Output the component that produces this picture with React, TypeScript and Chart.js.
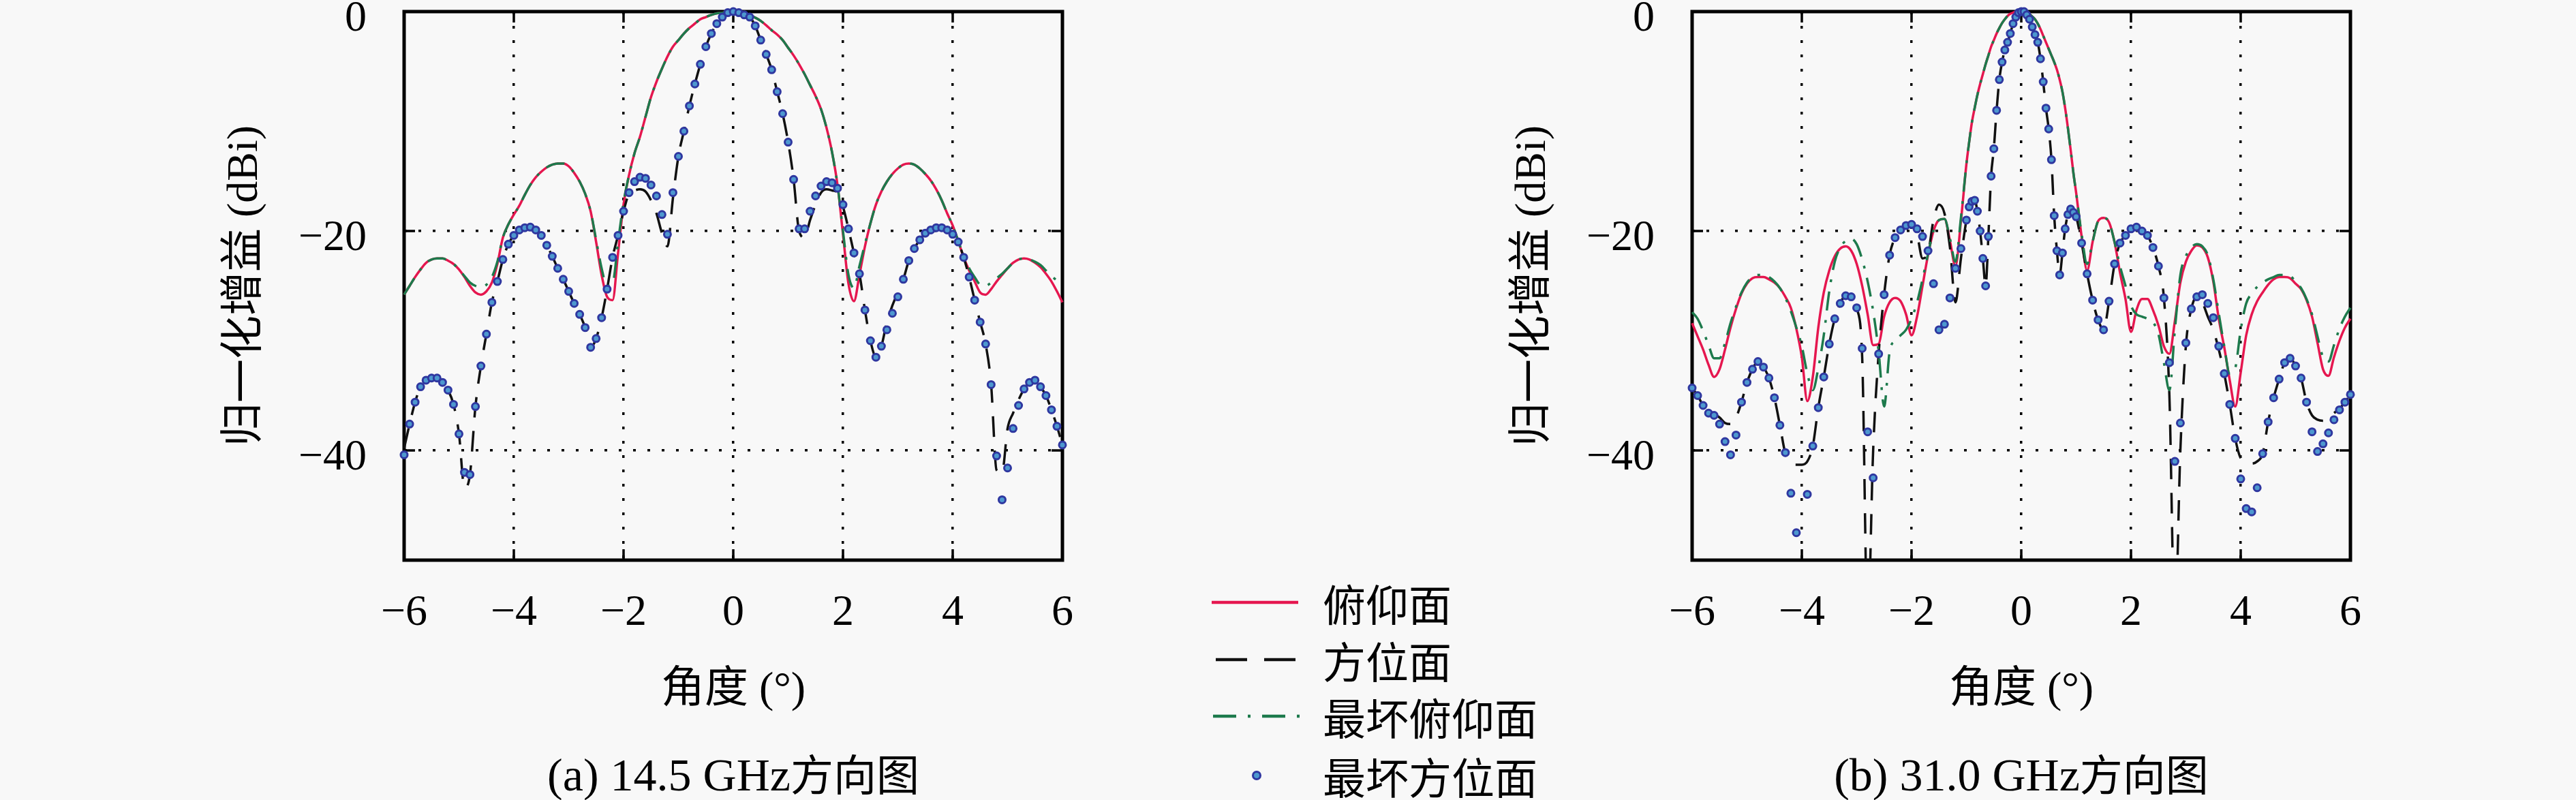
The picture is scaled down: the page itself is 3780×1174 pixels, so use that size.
import React, { useEffect, useRef } from 'react';
import { Chart, registerables } from 'chart.js';

Chart.register(...registerables);

// ---------- text ----------
const seriesNames = ['俯仰面', '方位面', '最坏俯仰面', '最坏方位面'];
const captions = ['(a) 14.5 GHz方向图', '(b) 31.0 GHz方向图'];
const xTitle = '角度 (°)';
const yTitle = '归一化增益 (dBi)';
const xTicks = [-6, -4, -2, 0, 2, 4, 6];
const yTicks = [-40, -20, 0];

// ---------- panel (a) 14.5 GHz ----------
const anglesA = [
  -6, -5.9, -5.8, -5.7, -5.6, -5.5, -5.4, -5.3, -5.2, -5.1,
  -5, -4.9, -4.8, -4.7, -4.6, -4.5, -4.4, -4.3, -4.2, -4.1,
  -4, -3.9, -3.8, -3.7, -3.6, -3.5, -3.4, -3.3, -3.2, -3.1,
  -3, -2.9, -2.8, -2.7, -2.6, -2.5, -2.4, -2.3, -2.2, -2.1,
  -2, -1.9, -1.8, -1.7, -1.6, -1.5, -1.4, -1.3, -1.2, -1.1,
  -1, -0.9, -0.8, -0.7, -0.6, -0.5, -0.4, -0.3, -0.2, -0.1,
  0,
  0.1, 0.2, 0.3, 0.4, 0.5, 0.6, 0.7, 0.8, 0.9, 1,
  1.1, 1.2, 1.3, 1.4, 1.5, 1.6, 1.7, 1.8, 1.9, 2,
  2.1, 2.2, 2.3, 2.4, 2.5, 2.6, 2.7, 2.8, 2.9, 3,
  3.1, 3.2, 3.3, 3.4, 3.5, 3.6, 3.7, 3.8, 3.9, 4,
  4.1, 4.2, 4.3, 4.4, 4.5, 4.6, 4.7, 4.8, 4.9, 5,
  5.1, 5.2, 5.3, 5.4, 5.5, 5.6, 5.7, 5.8, 5.9, 6,
];
const elevA = [
  -25.8, -25.0, -24.2, -23.5, -22.9, -22.6, -22.5, -22.5, -22.7, -23.0,
  -23.5, -24.2, -25.0, -25.6, -25.8, -25.5, -24.7, -23.0, -20.6, -19.4,
  -18.5, -17.7, -16.7, -15.8, -15.1, -14.6, -14.2, -13.95, -13.85, -13.85,
  -14.1, -14.7, -15.5, -16.6, -18.2, -21.0, -24.0, -26.0, -26.3, -22.0,
  -17.6, -14.9, -12.9, -11.4, -9.6, -7.8, -6.4, -5.2, -4.1, -3.2,
  -2.6, -2.0, -1.5, -1.1, -0.7, -0.5, -0.3, -0.15, -0.1, 0,
  0,
  0, -0.15, -0.35, -0.55, -0.85, -1.25, -1.7, -2.1, -2.6, -3.3,
  -4.0, -4.8, -5.7, -6.7, -7.7, -8.9, -10.6, -12.8, -15.8, -20.3,
  -24.8, -26.4, -24.0, -21.4, -19.3, -17.6, -16.4, -15.5, -14.8, -14.3,
  -13.95, -13.85, -13.95, -14.3, -14.8, -15.4, -16.2, -17.2, -18.4, -19.5,
  -20.9, -22.4, -23.6, -24.6, -25.6, -25.8, -25.3, -24.6, -24.0, -23.4,
  -22.9, -22.6, -22.5, -22.6, -22.9, -23.3, -23.9, -24.6, -25.5, -26.5,
];
const azimA = [
  -39.8, -37.6, -35.6, -34.2, -33.6, -33.4, -33.4, -33.8, -34.5, -35.8,
  -38.5, -43.4, -42.2, -36.0, -32.3, -29.4, -26.5, -24.6, -22.6, -21.2,
  -20.4, -19.9, -19.7, -19.65, -19.9, -20.4, -21.3, -22.3, -23.4, -24.4,
  -25.5, -26.6, -27.6, -28.8, -30.6, -29.8, -27.9, -25.3, -22.4, -20.4,
  -18.2, -16.6, -16.3, -16.2, -16.4, -17.2, -18.4, -20.2, -21.4, -17.0,
  -13.2, -10.9, -8.6, -6.6, -4.8, -3.2, -2.0, -1.1, -0.5, -0.1,
  0,
  -0.1, -0.3, -0.5, -1.3, -2.6, -3.9, -5.3, -7.3, -9.3, -11.9,
  -15.3, -20.0, -20.6, -19.0, -17.6, -16.5, -16.2, -16.3, -16.5, -17.8,
  -19.8, -22.0, -23.9, -27.2, -30.0, -31.5, -30.5, -28.3, -26.8, -25.6,
  -24.4, -22.7, -21.6, -20.8, -20.2, -19.9, -19.7, -19.7, -19.9, -20.3,
  -21.0, -22.4, -24.2, -26.3, -28.3, -30.3, -34.0, -41.8, -42.0, -38.0,
  -36.6, -35.4, -34.4, -33.8, -33.6, -34.2, -35.0, -36.3, -37.8, -39.5,
];
const worstElevA = [
  -25.8, -25.0, -24.2, -23.5, -22.9, -22.6, -22.5, -22.5, -22.7, -23.0,
  -23.5, -24.1, -24.7, -25.0, -25.1, -24.9, -24.2, -22.8, -20.6, -19.4,
  -18.5, -17.7, -16.7, -15.8, -15.1, -14.6, -14.2, -13.95, -13.85, -13.85,
  -14.1, -14.7, -15.5, -16.6, -18.2, -20.8, -23.4, -25.0, -24.8, -21.0,
  -17.4, -14.9, -12.9, -11.4, -9.6, -7.8, -6.4, -5.2, -4.1, -3.2,
  -2.6, -2.0, -1.5, -1.1, -0.7, -0.5, -0.3, -0.15, -0.1, 0,
  0,
  0, -0.15, -0.35, -0.55, -0.85, -1.25, -1.7, -2.1, -2.6, -3.3,
  -4.0, -4.8, -5.7, -6.7, -7.7, -8.9, -10.6, -12.8, -15.8, -20.0,
  -24.0, -25.2, -23.2, -21.2, -19.3, -17.6, -16.4, -15.5, -14.8, -14.3,
  -13.95, -13.85, -13.95, -14.3, -14.8, -15.4, -16.2, -17.2, -18.4, -19.5,
  -20.9, -22.3, -23.4, -24.2, -24.9, -25.0, -24.7, -24.3, -23.9, -23.4,
  -22.9, -22.6, -22.5, -22.6, -22.8, -23.1, -23.6, -24.1, -24.5, -24.8,
];
const worstAzimA = [
  -40.4, -37.6, -35.6, -34.2, -33.6, -33.4, -33.4, -33.8, -34.5, -35.8,
  -38.5, -42.0, -42.2, -36.0, -32.3, -29.4, -26.5, -24.6, -22.6, -21.2,
  -20.4, -19.9, -19.7, -19.65, -19.9, -20.4, -21.3, -22.3, -23.4, -24.4,
  -25.5, -26.6, -27.6, -28.8, -30.6, -29.8, -27.9, -25.3, -22.4, -20.4,
  -18.2, -16.5, -15.5, -15.1, -15.2, -15.8, -16.8, -18.5, -20.3, -16.5,
  -13.2, -10.9, -8.6, -6.6, -4.8, -3.2, -2.0, -1.1, -0.5, -0.1,
  0,
  -0.1, -0.3, -0.5, -1.3, -2.6, -3.9, -5.3, -7.3, -9.3, -11.9,
  -15.3, -19.8, -19.8, -18.2, -16.8, -15.9, -15.5, -15.6, -16.1, -17.6,
  -19.8, -22.0, -23.9, -27.2, -30.0, -31.5, -30.5, -29.0, -27.5, -26.0,
  -24.4, -22.7, -21.6, -20.8, -20.2, -19.9, -19.7, -19.7, -19.9, -20.3,
  -21.0, -22.4, -24.2, -26.3, -28.3, -30.3, -34.0, -40.5, -44.5, -41.6,
  -38.0, -35.9, -34.4, -33.8, -33.6, -34.2, -35.0, -36.3, -37.8, -39.5,
];

// ---------- panel (b) 31.0 GHz ----------
const anglesB = [
  -6, -5.9, -5.8, -5.7, -5.6, -5.5, -5.4, -5.3, -5.2, -5.1,
  -5, -4.9, -4.8, -4.7, -4.6, -4.5, -4.4, -4.3, -4.2, -4.1,
  -4, -3.9, -3.8, -3.7, -3.6, -3.5, -3.4, -3.3, -3.2, -3.1,
  -3, -2.9, -2.8, -2.7, -2.6, -2.5, -2.4, -2.3, -2.2, -2.1,
  -2, -1.9, -1.8, -1.7, -1.6, -1.5, -1.4, -1.3, -1.2, -1.1,
  -1, -0.95, -0.9, -0.85, -0.8, -0.75, -0.7, -0.65, -0.6, -0.55,
  -0.5, -0.45, -0.4, -0.35, -0.3, -0.25, -0.2, -0.15, -0.1, -0.05,
  0,
  0.05, 0.1, 0.15, 0.2, 0.25, 0.3, 0.35, 0.4, 0.45, 0.5,
  0.55, 0.6, 0.65, 0.7, 0.75, 0.8, 0.85, 0.9, 0.95, 1,
  1.1, 1.2, 1.3, 1.4, 1.5, 1.6, 1.7, 1.8, 1.9, 2,
  2.1, 2.2, 2.3, 2.4, 2.5, 2.6, 2.7, 2.8, 2.9, 3,
  3.1, 3.2, 3.3, 3.4, 3.5, 3.6, 3.7, 3.8, 3.9, 4,
  4.1, 4.2, 4.3, 4.4, 4.5, 4.6, 4.7, 4.8, 4.9, 5,
  5.1, 5.2, 5.3, 5.4, 5.5, 5.6, 5.7, 5.8, 5.9, 6,
];
const elevB = [
  -28.4, -29.6, -30.8, -32.2, -33.3, -32.6, -30.8, -28.8, -27.1, -25.7,
  -24.8, -24.3, -24.2, -24.2, -24.4, -24.7, -25.2, -26.0, -27.0, -28.9,
  -31.5, -35.5, -33.3, -28.8, -25.6, -23.6, -22.3, -21.6, -21.4, -21.8,
  -23.0, -25.0, -27.6, -30.4, -30.3, -27.8, -26.5, -26.1, -26.4, -27.6,
  -29.5, -27.8, -25.0, -22.2, -20.0, -19.0, -18.9, -20.9, -23.2, -19.1,
  -13.9, -11.9, -10.1, -8.8, -7.6, -6.6, -5.7, -4.8, -4.0, -3.2,
  -2.6, -2.0, -1.5, -1.05, -0.7, -0.4, -0.2, -0.1, 0, 0,
  0,
  0, -0.1, -0.25, -0.45, -0.7, -1.1, -1.6, -2.2, -2.8, -3.4,
  -4.0, -4.6, -5.3, -6.2, -7.3, -8.8, -10.6, -12.6, -14.7, -16.5,
  -20.5, -23.6, -21.0, -19.1, -18.8, -19.2, -21.0, -23.8, -26.2, -29.2,
  -27.2, -26.2, -26.2, -27.2, -28.6, -30.5, -31.2, -28.2, -24.7, -22.8,
  -21.8, -21.3, -21.5, -22.4, -24.6, -28.0, -30.6, -33.6, -36.0, -32.9,
  -29.5, -27.6, -26.4, -25.6, -24.9, -24.4, -24.2, -24.2, -24.3, -24.8,
  -25.3, -26.3, -27.8, -30.2, -32.6, -33.2, -31.5, -30.0, -28.8, -28.0,
];
const azimB = [
  -34.3, -35.0, -35.9, -36.4, -36.7, -37.0, -37.5, -37.6, -37.0, -35.6,
  -33.8, -32.6, -31.9, -32.4, -33.4, -35.2, -37.7, -40.3, -41.2, -41.3,
  -41.3, -41.0, -39.6, -36.1, -33.3, -30.3, -28.0, -26.6, -25.9, -26.0,
  -27.0, -31.5, -56.0, -40.0, -31.2, -25.8, -22.2, -20.6, -19.9, -19.5,
  -19.4, -20.3, -22.5, -22.0, -19.0, -17.6, -18.4, -21.5, -26.5, -22.5,
  -19.0, -17.8, -17.3, -17.2, -18.2, -20.0, -22.5, -25.0, -20.5, -15.0,
  -12.5, -9.0, -6.2, -4.6, -3.5, -2.8, -2.0, -1.1, -0.5, -0.1,
  0,
  0, -0.3, -0.7, -1.4, -2.1, -2.8, -4.3, -6.4, -8.8, -10.7,
  -13.5, -18.6, -21.8, -24.0, -22.0, -19.8, -18.5, -18.0, -18.3, -18.7,
  -21.1, -23.9, -26.3, -28.1, -29.0, -26.4, -23.0, -21.1, -20.4, -19.8,
  -19.65, -20.0, -20.4, -21.5, -23.2, -26.1, -35.0, -56.0, -40.0, -30.5,
  -27.1, -26.0, -26.5, -27.8, -29.0, -30.8, -33.0, -35.8, -38.9, -40.7,
  -41.0, -41.2, -41.0, -40.3, -37.4, -35.2, -33.5, -32.0, -31.6, -32.3,
  -33.4, -35.6, -36.8, -37.2, -37.3, -37.0, -36.6, -36.2, -35.6, -34.9,
];
const worstElevB = [
  -27.4, -28.0, -29.1, -30.4, -31.6, -31.6, -30.2, -28.4, -26.9, -25.6,
  -24.7, -24.2, -24.0, -24.0, -24.2, -24.6, -25.2, -26.1, -27.3, -28.8,
  -30.5, -33.0, -34.5, -32.5, -29.5, -25.5, -22.8, -21.5, -20.9, -20.7,
  -21.2, -22.6, -24.6, -27.3, -31.0, -36.0, -31.0, -30.0, -29.5, -29.0,
  -28.0, -26.5, -24.4, -22.1, -20.0, -19.0, -18.9, -20.7, -22.8, -18.8,
  -13.9, -11.9, -10.1, -8.8, -7.6, -6.6, -5.7, -4.8, -4.0, -3.2,
  -2.6, -2.0, -1.5, -1.05, -0.7, -0.4, -0.2, -0.1, 0, 0,
  0,
  0, -0.1, -0.25, -0.45, -0.7, -1.1, -1.6, -2.2, -2.8, -3.4,
  -4.0, -4.6, -5.3, -6.2, -7.3, -8.8, -10.6, -12.6, -14.7, -16.5,
  -20.3, -23.0, -21.0, -19.1, -18.8, -19.2, -21.0, -23.2, -25.0, -26.8,
  -27.6, -27.8, -28.0, -28.3, -29.4, -32.0, -34.5, -29.0, -24.0, -22.3,
  -21.5, -21.2, -21.4, -22.2, -24.4, -27.5, -30.5, -33.0, -32.5, -29.0,
  -26.6, -25.7, -25.1, -24.7, -24.4, -24.2, -24.0, -24.0, -24.1, -24.6,
  -25.2, -26.2, -27.6, -29.6, -31.5, -31.9, -30.4, -28.9, -27.8, -27.0,
];
const worstAzimB = [
  -34.3, -35.0, -35.9, -36.6, -36.8, -37.6, -39.2, -40.4, -38.6, -35.6,
  -33.8, -32.6, -31.9, -32.4, -33.4, -35.2, -37.7, -40.2, -43.9, -47.5,
  -53.0, -44.0, -39.6, -36.1, -33.3, -30.3, -28.0, -26.6, -25.9, -26.0,
  -27.0, -30.7, -38.3, -42.5, -31.2, -25.8, -22.2, -20.6, -19.9, -19.5,
  -19.4, -19.8, -20.5, -21.8, -24.8, -29.0, -28.5, -26.1, -23.4, -21.6,
  -19.0, -17.8, -17.3, -17.2, -18.2, -20.0, -22.5, -25.0, -20.5, -15.0,
  -12.5, -9.0, -6.2, -4.6, -3.5, -2.8, -2.0, -1.1, -0.5, -0.1,
  0,
  0, -0.3, -0.7, -1.4, -2.1, -2.8, -4.3, -6.4, -8.8, -10.7,
  -13.5, -18.6, -21.8, -24.0, -22.0, -19.8, -18.5, -18.0, -18.3, -18.7,
  -21.1, -23.9, -26.3, -28.1, -29.0, -26.4, -23.0, -21.1, -20.4, -19.8,
  -19.65, -20.0, -20.4, -21.5, -23.2, -26.1, -32.0, -41.0, -37.5, -30.2,
  -27.1, -26.0, -25.8, -26.6, -27.9, -30.5, -33.0, -35.8, -38.9, -42.6,
  -45.3, -45.6, -43.4, -40.3, -37.4, -35.2, -33.5, -32.0, -31.6, -32.3,
  -33.4, -35.6, -38.3, -40.1, -39.4, -38.4, -37.2, -36.3, -35.6, -34.9,
];

// ---------- styling ----------
const RED = '#e5174f';
const BLACK = '#111111';
const GREEN = '#1d7a4c';
const BLUE_EDGE = '#2f37a0';
const BLUE_FILL = '#4d98cf';
const BG = '#f8f8f8';
const SERIF = "'Liberation Serif', 'Noto Sans CJK SC', serif";
const CJK = "'Noto Sans CJK SC', 'Liberation Serif', sans-serif";
const CLIP = { left: 8, top: 12, right: 8, bottom: 0 };

const fmt = (v: any) => (Number(v) < 0 ? '\u2212' + Math.abs(Number(v)) : String(v));

const framePlugin = {
  id: 'frameBox',
  beforeDatasetsDraw(chart: any) {
    const { ctx, chartArea: a, scales } = chart;
    ctx.save();
    ctx.strokeStyle = '#000';
    ctx.lineWidth = 3.5;
    ctx.setLineDash([]);
    const L = 16;
    const seg = (x1: number, y1: number, x2: number, y2: number) => {
      ctx.beginPath();
      ctx.moveTo(x1, y1);
      ctx.lineTo(x2, y2);
      ctx.stroke();
    };
    xTicks.forEach((v) => {
      if (v === xTicks[0] || v === xTicks[xTicks.length - 1]) return;
      const px = scales.x.getPixelForValue(v);
      seg(px, a.bottom, px, a.bottom - L);
      seg(px, a.top, px, a.top + L);
    });
    yTicks.forEach((v) => {
      if (v === 0) return;
      const py = scales.y.getPixelForValue(v);
      seg(a.left, py, a.left + L, py);
      seg(a.right, py, a.right - L, py);
    });
    ctx.lineWidth = 5;
    ctx.strokeRect(a.left, a.top, a.right - a.left, a.bottom - a.top);
    ctx.restore();
  },
};

const CW = 1330;
const CH = 1174;

function Panel(props: { left: number; angles: number[]; elev: number[]; azim: number[]; worstElev: number[]; worstAzim: number[] }) {
  const ref = useRef<HTMLCanvasElement>(null);
  useEffect(() => {
    const { angles } = props;
    const xy = (ys: number[]) => angles.map((x, i) => ({ x, y: ys[i] }));
    const tickFont = { family: SERIF, size: 64 };
    const titleFont = { family: SERIF, size: 64 };
    const grid = { color: '#000', lineWidth: 3.5, drawTicks: false };
    const border = { display: false, dash: [4, 17] };
    const chart = new Chart(ref.current as HTMLCanvasElement, {
      type: 'line',
      data: {
        datasets: [
          {
            label: seriesNames[0], data: xy(props.elev), borderColor: RED, borderWidth: 3.5,
            pointRadius: 0, cubicInterpolationMode: 'monotone', order: 4, clip: CLIP,
          },
          {
            label: seriesNames[1], data: xy(props.azim), borderColor: BLACK, borderWidth: 3.5,
            borderDash: [30, 20], pointRadius: 0, cubicInterpolationMode: 'monotone', order: 3, clip: CLIP,
          },
          {
            label: seriesNames[2], data: xy(props.worstElev), borderColor: GREEN, borderWidth: 3.5,
            borderDash: [28, 14, 4, 14], pointRadius: 0, cubicInterpolationMode: 'monotone', order: 2, clip: CLIP,
          },
          {
            label: seriesNames[3], data: xy(props.worstAzim), showLine: false,
            pointRadius: 5, pointBorderWidth: 3, pointBorderColor: BLUE_EDGE,
            pointBackgroundColor: BLUE_FILL, order: 1, clip: CLIP,
          },
        ] as any,
      },
      options: {
        animation: false,
        responsive: false,
        events: [],
        layout: { padding: { left: 0, top: 17, right: 71, bottom: 102 } },
        plugins: { legend: { display: false }, tooltip: { enabled: false } },
        scales: {
          x: {
            type: 'linear', min: -6, max: 6,
            afterBuildTicks: (s: any) => { s.ticks = xTicks.map((v) => ({ value: v })); },
            afterFit: (s: any) => { s.height = 250; s.paddingLeft = 0; s.paddingRight = 0; },
            ticks: { font: tickFont, color: '#000', padding: 40, maxRotation: 0, autoSkip: false, callback: fmt },
            grid, border,
            title: { display: true, text: xTitle, font: titleFont, color: '#000', padding: { top: 0, bottom: 20 } },
          },
          y: {
            type: 'linear', min: -50, max: 0,
            afterBuildTicks: (s: any) => { s.ticks = yTicks.map((v) => ({ value: v })); },
            afterFit: (s: any) => { s.width = 293; s.paddingTop = 0; s.paddingBottom = 0; },
            ticks: { font: tickFont, color: '#000', padding: 55, labelOffset: 11, autoSkip: false, callback: fmt },
            grid, border,
            title: { display: true, text: yTitle, font: titleFont, color: '#000', padding: { top: 22, bottom: 0 } },
          },
        } as any,
      },
      plugins: [framePlugin],
    } as any);
    return () => chart.destroy();
  }, []);
  return (
    <canvas
      ref={ref}
      width={CW}
      height={CH}
      style={{ position: 'absolute', left: props.left, top: 0, width: CW, height: CH }}
    />
  );
}

function LegendRow(props: { cy: number; text: string; kind: number }) {
  const { cy, text, kind } = props;
  let sample: any = null;
  if (kind === 0) sample = <line x1={8} y1={10} x2={135} y2={10} stroke={RED} strokeWidth={4.5} />;
  if (kind === 1) sample = <line x1={14} y1={10} x2={135} y2={10} stroke={BLACK} strokeWidth={4.5} strokeDasharray="46 25" />;
  if (kind === 2) sample = <line x1={10} y1={10} x2={137} y2={10} stroke={GREEN} strokeWidth={4.5} strokeDasharray="34 17 4 17" />;
  if (kind === 3) sample = <circle cx={74} cy={10} r={5.5} stroke={BLUE_EDGE} strokeWidth={3} fill={BLUE_FILL} />;
  return (
    <div style={{ position: 'absolute', left: 1770, top: cy - 40, height: 80, display: 'flex', alignItems: 'center', whiteSpace: 'nowrap' }}>
      <svg width={140} height={20} style={{ display: 'block' }}>{sample}</svg>
      <span style={{ marginLeft: 31, fontFamily: CJK, fontSize: 63, lineHeight: '80px', color: '#000' }}>{text}</span>
    </div>
  );
}

function Caption(props: { cx: number; text: string }) {
  const m = props.text.match(/^(.*?)([\u4e00-\u9fff]+)$/);
  const latin = m ? m[1] : props.text;
  const han = m ? m[2] : '';
  return (
    <div style={{ position: 'absolute', left: props.cx - 500, width: 1000, top: 1093, height: 80, textAlign: 'center', fontFamily: SERIF, fontSize: 68, lineHeight: '80px', color: '#000', whiteSpace: 'nowrap' }}>
      <span>{latin}</span>
      <span style={{ fontFamily: CJK, fontSize: 63 }}>{han}</span>
    </div>
  );
}

export default function App() {
  const rows = [884, 968, 1051, 1138];
  return (
    <div style={{ position: 'absolute', left: 0, top: 0, width: 3780, height: 1174, background: BG, overflow: 'hidden' }}>
      <Panel left={300} angles={anglesA} elev={elevA} azim={azimA} worstElev={worstElevA} worstAzim={worstAzimA} />
      <Panel left={2190} angles={anglesB} elev={elevB} azim={azimB} worstElev={worstElevB} worstAzim={worstAzimB} />
      {seriesNames.map((n, i) => (
        <LegendRow key={n} cy={rows[i]} text={n} kind={i} />
      ))}
      <Caption cx={1076} text={captions[0]} />
      <Caption cx={2966} text={captions[1]} />
    </div>
  );
}
